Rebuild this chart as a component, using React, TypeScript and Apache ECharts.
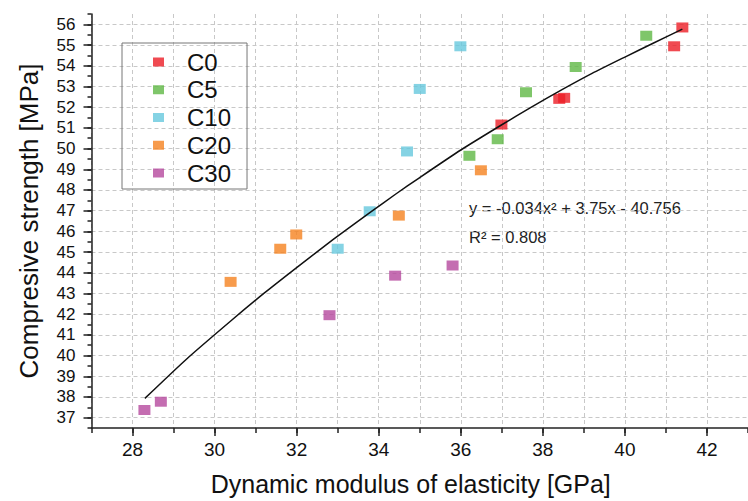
import React, { useEffect, useRef } from "react";
import * as echarts from "echarts";

const seriesNames = ["C0", "C5", "C10", "C20", "C30"];
const seriesColors = ["#ec1d26", "#5fb845", "#66c8dd", "#f5821f", "#b5489e"];

const c0X = [41.4, 41.2, 38.4, 38.52, 36.99];
const c0Y = [55.85, 54.94, 52.4, 52.45, 51.16];
const c5X = [40.52, 38.8, 37.59, 36.9, 36.21];
const c5Y = [55.45, 53.94, 52.72, 50.45, 49.65];
const c10X = [35.99, 35.0, 34.69, 33.78, 33.0];
const c10Y = [54.94, 52.88, 49.86, 46.97, 45.16];
const c20X = [36.49, 34.49, 31.99, 31.6, 30.39];
const c20Y = [48.95, 46.76, 45.85, 45.16, 43.56];
const c30X = [35.8, 34.4, 32.8, 28.69, 28.29];
const c30Y = [44.35, 43.86, 41.95, 37.77, 37.37];

const fitX = [28.3, 29.3, 30.4, 31.2, 32, 32.9, 33.8, 34.4, 35, 36, 37, 37.7, 38.5, 39.2, 40, 40.7, 41.4];
const fitY = [37.93, 39.8, 41.68, 43.0, 44.25, 45.62, 46.93, 47.78, 48.6, 49.93, 51.15, 51.98, 52.88, 53.63, 54.42, 55.1, 55.77];

const xMajorTicks = [28, 30, 32, 34, 36, 38, 40, 42];
const yMajorTicks = [37, 38, 39, 40, 41, 42, 43, 44, 45, 46, 47, 48, 49, 50, 51, 52, 53, 54, 55, 56];

const equationText = "y = -0.034x² + 3.75x - 40.756";
const r2Text = "R² = 0.808";

const FONT = "Liberation Sans, Arial, sans-serif";

export default function App() {
  const ref = useRef<HTMLDivElement>(null);
  useEffect(() => {
    document.body.style.margin = "0";
    if (!ref.current) return;
    const chart = echarts.init(ref.current, null, { renderer: "svg" });
    const xs = [c0X, c5X, c10X, c20X, c30X];
    const ys = [c0Y, c5Y, c10Y, c20Y, c30Y];
    const scatter = seriesNames.map((name, i) => ({
      name,
      type: "scatter",
      xAxisIndex: 0,
      yAxisIndex: 0,
      symbol: "rect",
      symbolSize: [12, 10],
      itemStyle: { color: seriesColors[i] },
      data: xs[i].map((x, j) => [x, ys[i][j]]),
      z: 3,
    }));
    const axisLineStyle = { color: "#222", width: 1.5 };
    chart.setOption({
      animation: false,
      grid: { left: 91.5, top: 14, bottom: 67.7, right: -8.3, containLabel: false },
      legend: {
        data: seriesNames,
        orient: "vertical",
        left: 122,
        top: 43,
        icon: "rect",
        itemWidth: 11,
        itemHeight: 9,
        itemGap: 3.75,
        padding: [7, 16, 4, 31],
        borderColor: "#777",
        borderWidth: 1,
        textStyle: {
          fontFamily: FONT,
          fontSize: 24,
          lineHeight: 24,
          color: "#111",
          padding: [0, 0, 0, 18],
        },
      },
      xAxis: [
        {
          type: "value",
          min: 27,
          max: 43,
          interval: 1,
          position: "bottom",
          axisLine: { show: true, lineStyle: axisLineStyle },
          axisTick: { show: true, length: 5, lineStyle: axisLineStyle },
          axisLabel: { show: false },
          splitLine: { show: true, lineStyle: { color: "#c8c8c8", type: [4, 3], width: 1 } },
        },
        {
          type: "value",
          min: 27,
          max: 43,
          position: "bottom",
          offset: 0,
          axisLine: { show: false },
          axisTick: { show: true, length: 8, customValues: xMajorTicks, lineStyle: axisLineStyle },
          axisLabel: {
            show: true,
            customValues: xMajorTicks,
            margin: 12,
            fontFamily: FONT,
            fontSize: 19,
            color: "#111",
          },
          splitLine: { show: false },
          name: "Dynamic modulus of elasticity [GPa]",
          nameLocation: "middle",
          nameGap: 43,
          nameTextStyle: { fontFamily: FONT, fontSize: 25, color: "#111", padding: [0, 18, 0, 0] },
        },
      ],
      yAxis: [
        {
          type: "value",
          min: 36.5,
          max: 56.5,
          interval: 0.5,
          position: "left",
          axisLine: { show: true, lineStyle: axisLineStyle },
          axisTick: { show: true, length: 4, lineStyle: axisLineStyle },
          axisLabel: { show: false },
          splitLine: { show: false },
        },
        {
          type: "value",
          min: 36.5,
          max: 56.5,
          position: "left",
          offset: 0,
          axisLine: { show: false },
          axisTick: { show: true, length: 8, customValues: yMajorTicks, lineStyle: axisLineStyle },
          axisLabel: {
            show: true,
            customValues: yMajorTicks,
            margin: 16,
            fontFamily: FONT,
            fontSize: 17,
            color: "#111",
          },
          splitLine: { show: true, lineStyle: { color: "#c8c8c8", type: [4, 3], width: 1 } },
          name: "Compresive strength [MPa]",
          nameLocation: "middle",
          nameGap: 50,
          nameRotate: 90,
          nameTextStyle: { fontFamily: FONT, fontSize: 26, color: "#111" },
        },
      ],
      series: [
        ...scatter,
        {
          name: "fit",
          type: "line",
          xAxisIndex: 0,
          yAxisIndex: 0,
          smooth: 0.2,
          symbol: "none",
          lineStyle: { color: "#111", width: 1.5 },
          data: fitX.map((x, i) => [x, fitY[i]]),
          z: 4,
        },
      ],
      graphic: [
        {
          type: "text",
          left: 469,
          top: 199,
          style: { text: equationText, fontFamily: FONT, fontSize: 16.5, fill: "#222" },
        },
        {
          type: "text",
          left: 469,
          top: 228,
          style: { text: r2Text, fontFamily: FONT, fontSize: 16.5, fill: "#222" },
        },
      ],
    });
    return () => chart.dispose();
  }, []);
  return <div ref={ref} style={{ width: 748, height: 501 }} />;
}
